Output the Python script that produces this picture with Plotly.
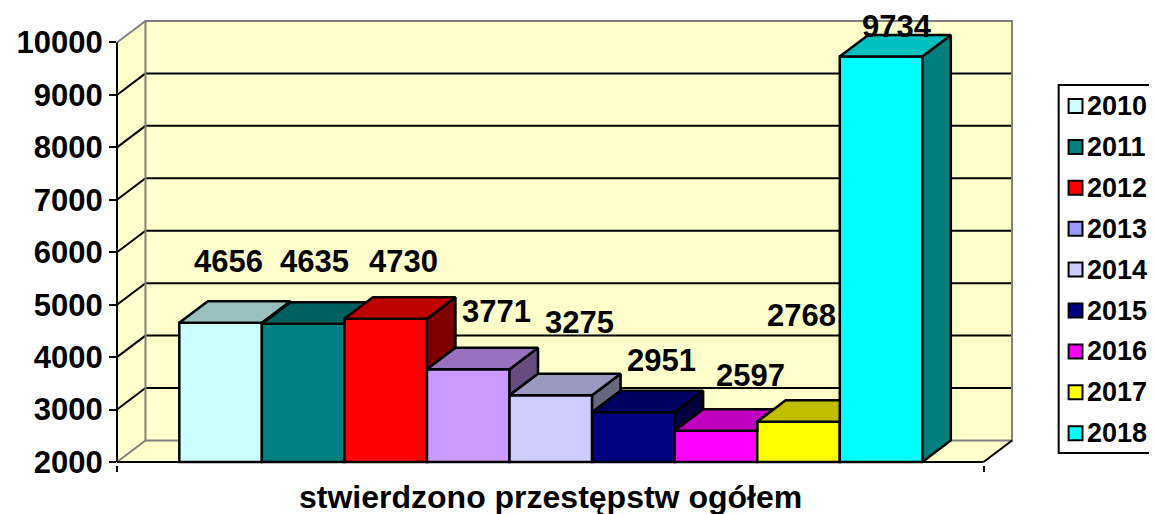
import plotly.graph_objects as go

# ---------------- data ----------------
years = ["2010", "2011", "2012", "2013", "2014", "2015", "2016", "2017", "2018"]
values = [4656, 4635, 4730, 3771, 3275, 2951, 2597, 2768, 9734]
y_ticks = [2000, 3000, 4000, 5000, 6000, 7000, 8000, 9000, 10000]
category_title = "stwierdzono przestępstw ogółem"

# ---------------- styles ----------------
front_colors = ["#CCFFFF", "#008080", "#FF0000", "#CC99FF", "#CCCCFF",
                "#000080", "#FF00FF", "#FFFF00", "#00FFFF"]
legend_colors = ["#CCFFFF", "#008080", "#FF0000", "#9999FF", "#CCCCFF",
                 "#000080", "#FF00FF", "#FFFF00", "#00FFFF"]
label_xshift = [8, 11, 18, 28, 29, 28, 35, 3, 16]      # px nudges for value labels
label_yshift = [61, 62, 57, 58, 73, 52, 55, 106, 30]
WALL = "#FFFFCC"
EDGE_GRAY = "#808080"
FONT = "Liberation Sans, Arial, sans-serif"


def shade(hex_color, f):
    h = hex_color.lstrip("#")
    r, g, b = (int(h[k:k + 2], 16) for k in (0, 2, 4))
    return "#%02X%02X%02X" % (int(r * f), int(g * f), int(b * f))


# ---------------- geometry (layout constants, window pixels) ----------------
WIN_W, WIN_H = 1157, 514
OFF = 8                      # default page body margin
W, H = WIN_W - OFF, WIN_H - OFF
PLOT_L, PLOT_R, PLOT_T, PLOT_B = 110, 1016, 17, 465
X_UNIT_PX = 83.2            # px per category
Y_PX = 52.44 / 1000.0       # px per value unit
Y_FRONT_BASE_PX = 462       # pixel row of value 2000 on the front plane
BASE = y_ticks[0]
TOP = y_ticks[-1]

x0 = -0.5 - (172.8 - PLOT_L) / X_UNIT_PX            # x value at front axis
x_right = x0 + (PLOT_R - PLOT_L) / X_UNIT_PX
xw = x0 + 902 / X_UNIT_PX                           # right edge of back wall
y_bottom = BASE - (PLOT_B - Y_FRONT_BASE_PX) / Y_PX
y_top = BASE + (Y_FRONT_BASE_PX - PLOT_T) / Y_PX
DX = 28.7 / X_UNIT_PX       # depth offset (x)
DY = 21.5 / Y_PX            # depth offset (y)
xf = xw - DX                # front-right floor corner


def px_to_paper_x(px):
    return (px - PLOT_L) / (PLOT_R - PLOT_L)


def px_to_paper_y(py):
    return (PLOT_B - py) / (PLOT_B - PLOT_T)


def poly_path(pts):
    return "M " + " L ".join(f"{x},{y}" for x, y in pts) + " Z"


shapes = []
# left wall, back wall, floor
shapes.append(dict(type="path", layer="below", line=dict(width=0), fillcolor=WALL,
                   path=poly_path([(x0, BASE), (x0, TOP), (x0 + DX, TOP + DY), (x0 + DX, BASE + DY)])))
shapes.append(dict(type="rect", layer="below", line=dict(width=0), fillcolor=WALL,
                   x0=x0 + DX, x1=xw, y0=BASE + DY, y1=TOP + DY))
shapes.append(dict(type="path", layer="below", line=dict(width=0), fillcolor=WALL,
                   path=poly_path([(x0, BASE), (xf, BASE), (xw, BASE + DY), (x0 + DX, BASE + DY)])))
# gridlines on back and left wall
for t in y_ticks[1:-1]:
    shapes.append(dict(type="line", layer="below", line=dict(color="black", width=2),
                       x0=x0 + DX, x1=xw, y0=t + DY, y1=t + DY))
    shapes.append(dict(type="line", layer="below", line=dict(color="black", width=2),
                       x0=x0, x1=x0 + DX, y0=t, y1=t + DY))
# gray wall borders
shapes.append(dict(type="rect", layer="below", line=dict(color=EDGE_GRAY, width=2),
                   x0=x0 + DX, x1=xw, y0=BASE + DY, y1=TOP + DY))
shapes.append(dict(type="line", layer="below", line=dict(color=EDGE_GRAY, width=2),
                   x0=x0, x1=x0 + DX, y0=TOP, y1=TOP + DY))
shapes.append(dict(type="line", layer="below", line=dict(color=EDGE_GRAY, width=2),
                   x0=x0, x1=x0 + DX, y0=BASE, y1=BASE + DY))
# floor edges
shapes.append(dict(type="line", layer="above", line=dict(color="black", width=2),
                   x0=x0, x1=xf, y0=BASE, y1=BASE))
shapes.append(dict(type="line", layer="below", line=dict(color="black", width=2),
                   x0=xf, x1=xw, y0=BASE, y1=BASE + DY))
# front value axis line
shapes.append(dict(type="line", layer="above", line=dict(color="black", width=2),
                   xref="paper", x0=0, x1=0, yref="y", y0=BASE, y1=TOP))

fig = go.Figure()

# front faces of the columns
for i, (yr, v) in enumerate(zip(years, values)):
    fig.add_trace(go.Bar(
        x=[i], y=[v - BASE], base=BASE, width=1, name=yr, showlegend=False,
        marker=dict(color=front_colors[i], line=dict(color="black", width=2.5)),
        hoverinfo="skip"))

# top and side faces (visible parts only)
n = len(values)
for i, v in enumerate(values):
    L, R = i - 0.5, i + 0.5
    vn = values[i + 1] if i < n - 1 else None
    side = None
    if vn is None:
        side = [(R, BASE), (R + DX, BASE + DY), (R + DX, v + DY), (R, v)]
    elif v > vn:
        side = [(R, vn), (R + DX, vn + DY), (R + DX, v + DY), (R, v)]
    if vn is not None and vn > v:
        if vn >= v + DY:
            top = [(L, v), (L + DX, v + DY), (R, v + DY), (R, v)]
        else:
            t = (v + DY - vn) / DY * DX
            top = [(L, v), (L + DX, v + DY), (R + t, v + DY), (R, vn), (R, v)]
    else:
        top = [(L, v), (L + DX, v + DY), (R + DX, v + DY), (R, v)]
    for pts, f in ((side, 0.5), (top, 0.75)):
        if pts is None:
            continue
        xs = [p[0] for p in pts] + [pts[0][0]]
        ys = [p[1] for p in pts] + [pts[0][1]]
        fig.add_trace(go.Scatter(
            x=xs, y=ys, mode="lines", fill="toself",
            fillcolor=shade(front_colors[i], f),
            line=dict(color="black", width=2.5), showlegend=False, hoverinfo="skip"))

annotations = []
# value labels
for i, v in enumerate(values):
    annotations.append(dict(
        x=i, y=v, xref="x", yref="y", text=str(v), showarrow=False,
        xshift=label_xshift[i], yshift=label_yshift[i],
        font=dict(family=FONT, size=31, color="black", weight="bold")))
# category title
annotations.append(dict(
    x=(x0 + xf) / 2, y=px_to_paper_y(497), xref="x", yref="paper",
    text=category_title, showarrow=False, yanchor="middle",
    font=dict(family=FONT, size=32, color="black", weight="bold")))

# manual legend
shapes.append(dict(type="rect", xref="paper", yref="paper", layer="above",
                   x0=px_to_paper_x(1059), x1=px_to_paper_x(1175),
                   y0=px_to_paper_y(453), y1=px_to_paper_y(85),
                   line=dict(color="black", width=2), fillcolor="rgba(0,0,0,0)"))
for k, yr in enumerate(years):
    cy = 106 + 40.9 * k
    shapes.append(dict(type="rect", xref="paper", yref="paper", layer="above",
                       x0=px_to_paper_x(1069), x1=px_to_paper_x(1083),
                       y0=px_to_paper_y(cy + 7), y1=px_to_paper_y(cy - 7),
                       line=dict(color="black", width=2), fillcolor=legend_colors[k]))
    annotations.append(dict(
        x=px_to_paper_x(1086), y=px_to_paper_y(cy), xref="paper", yref="paper",
        xanchor="left", yanchor="middle", text=yr, showarrow=False,
        font=dict(family=FONT, size=27, color="black", weight="bold")))

fig.update_layout(
    width=W, height=H,
    margin=dict(l=PLOT_L - OFF, r=W - (PLOT_R - OFF), t=PLOT_T - OFF,
                b=H - (PLOT_B - OFF), pad=0),
    paper_bgcolor="white", plot_bgcolor="rgba(0,0,0,0)",
    barmode="overlay", showlegend=False,
    shapes=shapes, annotations=annotations,
    xaxis=dict(range=[x0, x_right], showgrid=False, zeroline=False, showline=False,
               tickvals=[x0, xf], ticktext=["", ""], ticks="outside",
               ticklen=6, tickwidth=2, tickcolor="black", fixedrange=True),
    yaxis=dict(range=[y_bottom, y_top], showgrid=False, zeroline=False, showline=False,
               tickvals=y_ticks, ticktext=[str(t) for t in y_ticks],
               ticks="outside", ticklen=7, tickwidth=2, tickcolor="black",
               tickfont=dict(family=FONT, size=31, color="black", weight="bold"),
               fixedrange=True),
)

fig.write_html("out.html")
